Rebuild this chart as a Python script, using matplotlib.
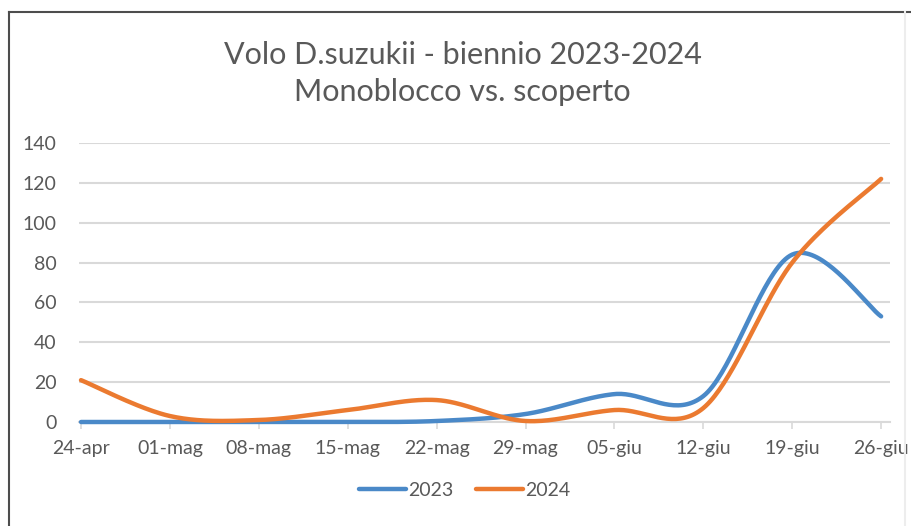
import numpy as np
import matplotlib
matplotlib.use("Agg")
import matplotlib.pyplot as plt
from matplotlib.lines import Line2D

# Weekly trap counts of D. suzukii, same weeks in both seasons
weeks = ['24-apr', '01-mag', '08-mag', '15-mag', '22-mag',
         '29-mag', '05-giu', '12-giu', '19-giu', '26-giu']
catches_2023 = [0, 0, 0, 0, 0.5, 4, 14, 13, 84, 53]
catches_2024 = [21, 3, 1, 6, 11, 0.5, 6, 7, 80, 122]
series_names = ['2023', '2024']
y_ticks = [0, 20, 40, 60, 80, 100, 120, 140]

BLUE = '#4A89C8'
ORANGE = '#EB7A30'
TEXT = '#595959'
GRID = '#D9D9D9'
FONT = ['Lato', 'DejaVu Sans']

plt.rcParams['font.family'] = FONT


def smooth(xs, ys, steps=40):
    """Spreadsheet-style smoothed line: cubic Bezier through every point,
    control handles from the neighbouring points (Catmull-Rom, 1/6)."""
    xs = np.asarray(xs, float)
    ys = np.asarray(ys, float)
    px = np.concatenate([[xs[0]], xs, [xs[-1]]])
    py = np.concatenate([[ys[0]], ys, [ys[-1]]])
    out_x, out_y = [], []
    t = np.linspace(0, 1, steps)
    for i in range(1, len(px) - 2):
        p0 = np.array([px[i], py[i]])
        p3 = np.array([px[i + 1], py[i + 1]])
        c1 = p0 + (np.array([px[i + 1], py[i + 1]]) - np.array([px[i - 1], py[i - 1]])) / 6
        c2 = p3 - (np.array([px[i + 2], py[i + 2]]) - np.array([px[i], py[i]])) / 6
        b = ((1 - t) ** 3)[:, None] * p0 + (3 * (1 - t) ** 2 * t)[:, None] * c1 \
            + (3 * (1 - t) * t ** 2)[:, None] * c2 + (t ** 3)[:, None] * p3
        out_x.append(b[:, 0])
        out_y.append(b[:, 1])
    return np.concatenate(out_x), np.concatenate(out_y)


fig = plt.figure(figsize=(9.11, 5.26), dpi=100)
fig.patch.set_facecolor('white')
ax = fig.add_axes([79 / 911, 104 / 526, 811 / 911, 279 / 526])

x = np.arange(len(weeks))
for vals, color, name in [(catches_2023, BLUE, series_names[0]),
                          (catches_2024, ORANGE, series_names[1])]:
    sx, sy = smooth(x, vals)
    ax.plot(sx, sy, color=color, lw=3.2, solid_capstyle='round',
            label=name, clip_on=False, zorder=3)

ax.set_xlim(-0.0225, 9.10)
ax.set_ylim(0, 140)
ax.set_yticks(y_ticks)
ax.set_xticks(x)
ax.set_xticklabels(weeks)
ax.grid(axis='y', color=GRID, lw=1.5)
ax.set_axisbelow(True)
for side in ('top', 'right', 'left'):
    ax.spines[side].set_visible(False)
ax.spines['bottom'].set_color(GRID)
ax.spines['bottom'].set_linewidth(1.5)
ax.tick_params(axis='y', length=0, pad=16, labelsize=14, labelcolor=TEXT)
ax.tick_params(axis='x', length=5, width=1.2, color=GRID, pad=8,
               labelsize=14, labelcolor=TEXT)

fig.text(0.508, 1 - 55 / 526, 'Volo D.suzukii - biennio 2023-2024',
         ha='center', va='center', fontsize=22, color=TEXT)
fig.text(0.508, 1 - 92 / 526, 'Monoblocco vs. scoperto',
         ha='center', va='center', fontsize=22, color=TEXT)

fig.legend(loc='center', bbox_to_anchor=(0.51, 1 - 490 / 526), ncol=2,
           frameon=False, fontsize=14, labelcolor=TEXT, handlelength=2.4,
           handletextpad=0.1, columnspacing=1.2)

# chart frame edges
fig.add_artist(Line2D([9 / 911, 9 / 911], [0, 1 - 12 / 526], color='#4D4D4D', lw=1.5))
fig.add_artist(Line2D([9 / 911, 1], [1 - 12 / 526, 1 - 12 / 526], color='#4D4D4D', lw=1.5))
fig.add_artist(Line2D([905 / 911, 905 / 911], [0, 1 - 12 / 526], color='#EDEDED', lw=1.5))

fig.savefig('out.png', dpi=100, facecolor='white')
